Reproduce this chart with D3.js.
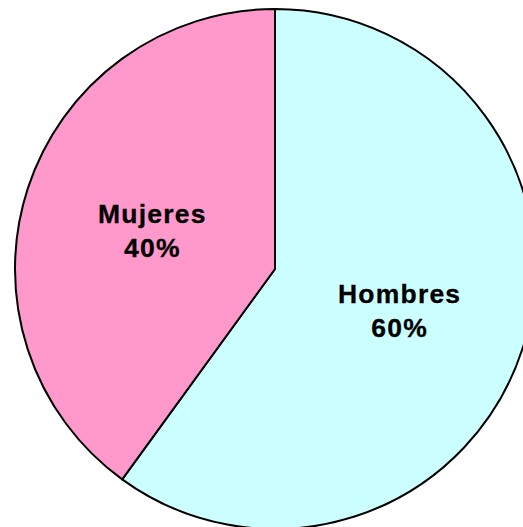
<!DOCTYPE html>
<html>
<head>
<meta charset="utf-8">
<script src="https://cdn.jsdelivr.net/npm/d3@7"></script>
<style>
  html, body { margin: 0; padding: 0; background: #fff; overflow: hidden; }
</style>
</head>
<body>
<svg id="chart"></svg>
<script>
// data
const categories = ["Hombres", "Mujeres"];
const values = [60, 40];
const colors = ["#CCFFFF", "#FF99CC"];

const width = 523, height = 527;
const cx = 275, cy = 269, radius = 260;

const svg = d3.select("#chart").attr("width", width).attr("height", height);

const data = categories.map((c, i) => ({ name: c, value: values[i] }));

// pie starts at 12 o'clock, clockwise, no sorting
const pie = d3.pie().value(d => d.value).sort(null);
const arc = d3.arc().innerRadius(0).outerRadius(radius);

const g = svg.append("g").attr("transform", `translate(${cx},${cy})`);

const arcs = pie(data);

g.selectAll("path.slice")
  .data(arcs)
  .enter()
  .append("path")
  .attr("class", "slice")
  .attr("d", arc)
  .attr("fill", (d, i) => colors[i])
  .attr("stroke", "#000")
  .attr("stroke-width", 2)
  .attr("stroke-linejoin", "round");

// labels sit at half the radius along each slice's mid-angle
const labelArc = d3.arc().innerRadius(radius * 0.5).outerRadius(radius * 0.5);
const total = d3.sum(values);

const labels = g.selectAll("text.label")
  .data(arcs)
  .enter()
  .append("text")
  .attr("class", "label")
  .attr("text-anchor", "middle")
  .attr("font-family", "'Liberation Sans', Arial, sans-serif")
  .attr("font-weight", "bold")
  .attr("font-size", 26.5)
  .attr("letter-spacing", 1.2)
  .attr("fill", "#000")
  .attr("stroke", "#000")
  .attr("stroke-width", 0.3)
  .attr("transform", d => {
    const [x, y] = labelArc.centroid(d);
    return `translate(${x + 1},${y})`;
  });

labels.append("tspan")
  .attr("x", 0)
  .attr("dy", -6)
  .text(d => d.data.name);

labels.append("tspan")
  .attr("x", 0)
  .attr("dy", 34)
  .text(d => Math.round(d.data.value / total * 100) + "%");
</script>
</body>
</html>
